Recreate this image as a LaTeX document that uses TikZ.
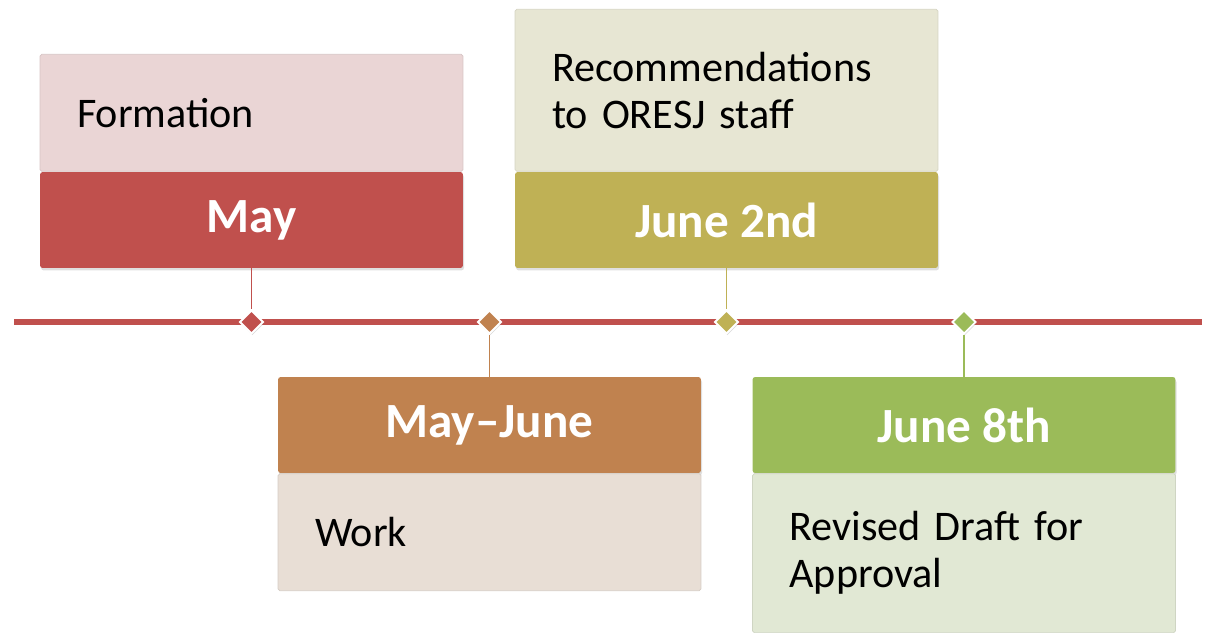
\documentclass[tikz,border=0pt]{standalone}
\usepackage{fontspec}
\setmainfont{Carlito}
\usetikzlibrary{positioning,shapes.geometric,shadows}

\definecolor{mayred}{HTML}{C0504D}
\definecolor{maylight}{HTML}{EAD5D5}
\definecolor{workorange}{HTML}{C0824F}
\definecolor{worklight}{HTML}{E8DED5}
\definecolor{recolive}{HTML}{BFB155}
\definecolor{reclight}{HTML}{E7E6D3}
\definecolor{revgreen}{HTML}{9BBB59}
\definecolor{revlight}{HTML}{E1E8D4}

\tikzset{
  datebox/.style={rectangle, rounded corners=1.5pt, fill=#1, minimum width=8.46cm,
    minimum height=1.92cm, text=white, font=\bfseries\fontsize{28}{32}\selectfont,
    drop shadow={opacity=0.25, shadow xshift=0.6pt, shadow yshift=-1.4pt}},
  notebox/.style={rectangle, rounded corners=1pt, fill=#1, draw=#1!92!black, line width=0.4pt,
    minimum width=8.46cm, text width=6.98cm, inner xsep=0.74cm, align=left,
    font=\fontsize{24}{26.7}\selectfont},
  stone/.style={diamond, fill=#1, draw=white, line width=1.1pt, minimum size=0.48cm, inner sep=0pt,
    drop shadow={opacity=0.3, shadow xshift=0.4pt, shadow yshift=-0.9pt}},
  stem/.style={draw=#1, line width=1pt}
}

\begin{document}
\begin{tikzpicture}[x=0.02cm,y=-0.02cm]
  \useasboundingbox (0,0) rectangle (1209,632);

  % timeline
  \coordinate (tl-start) at (14,322);
  \coordinate (tl-end) at (1202,322);
  \draw[mayred, line width=2.9pt] (tl-start) -- (tl-end);

  % top boxes
  \node[datebox=mayred] (may) at (251.5,220) {May};
  \node[notebox=maylight, minimum height=2.34cm, above=0pt of may] (formation) {Formation};

  \node[datebox=recolive] (june2) at (726.5,220) {June 2nd};
  \node[notebox=reclight, minimum height=3.24cm, above=0pt of june2] (recomm)
    {Recommendations\\to ORESJ staff};

  % bottom boxes
  \node[datebox=workorange] (mayjune) at (489.5,425) {May–June};
  \node[notebox=worklight, minimum height=2.34cm, below=0pt of mayjune] (work) {Work};

  \node[datebox=revgreen] (june8) at (964,425) {June 8th};
  \node[notebox=revlight, minimum height=3.18cm, below=0pt of june8] (revised)
    {Revised Draft for\\Approval};

  % milestones
  \node[stone=mayred] (m-may) at (251.5,322) {};
  \node[stone=workorange] (m-mayjune) at (489.5,322) {};
  \node[stone=recolive] (m-june2) at (726.5,322) {};
  \node[stone=revgreen] (m-june8) at (964,322) {};

  \draw[stem=mayred] (may) -- (m-may);
  \draw[stem=workorange] (mayjune) -- (m-mayjune);
  \draw[stem=recolive] (june2) -- (m-june2);
  \draw[stem=revgreen] (june8) -- (m-june8);
\end{tikzpicture}
\end{document}
